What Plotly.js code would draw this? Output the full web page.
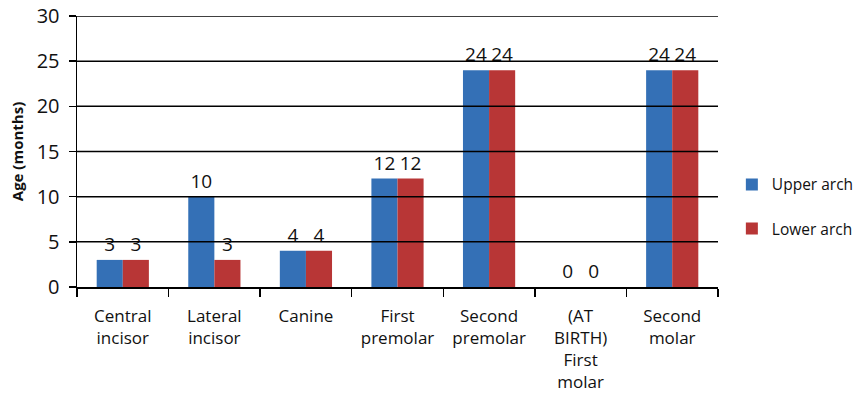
<!DOCTYPE html>
<html>
<head>
<meta charset="utf-8">
<script src="https://cdn.plot.ly/plotly-3.0.1.min.js"></script>
<style>html,body{margin:0;padding:0;background:#fff;}#chart{width:860px;height:394px;}</style>
</head>
<body>
<div id="chart"></div>
<script>
var categories = ["Central<br>incisor", "Lateral<br>incisor", "Canine", "First<br>premolar", "Second<br>premolar", "(AT<br>BIRTH)<br>First<br>molar", "Second<br>molar"];
var upperArch = [3, 10, 4, 12, 24, 0, 24];
var lowerArch = [3, 3, 4, 12, 24, 0, 24];
var yTicks = [0, 5, 10, 15, 20, 25, 30];

var FONT = "Open Sans, Noto Sans, sans-serif";

var traces = [
  {type: "bar", name: "Upper arch", x: categories, y: upperArch,
   text: upperArch.map(String), textposition: "outside", cliponaxis: false,
   constraintext: "none", textfont: {family: FONT, size: 19, color: "#111"},
   marker: {color: "#3470b6", line: {width: 0}}, legendgroup: "a"},
  {type: "bar", name: "Lower arch", x: categories, y: lowerArch,
   text: lowerArch.map(String), textposition: "outside", cliponaxis: false,
   constraintext: "none", textfont: {family: FONT, size: 19, color: "#111"},
   marker: {color: "#b83636", line: {width: 0}}, legendgroup: "b"}
];

var gridShapes = yTicks.filter(function(v){return v > 0;}).map(function(v){
  return {type: "line", xref: "paper", yref: "y", x0: 0, x1: 1, y0: v, y1: v,
          line: {color: "#000", width: 1.5}, layer: "above"};
});

var layout = {
  width: 860, height: 394,
  margin: {l: 77, r: 142, t: 16, b: 107},
  paper_bgcolor: "#fff", plot_bgcolor: "#fff",
  font: {family: FONT, color: "#111"},
  barmode: "group", bargap: 0.43, bargroupgap: 0,
  showlegend: true,
  legend: {xref: "container", yref: "container", x: 0.851, xanchor: "left", y: 0.475, yanchor: "middle",
           font: {family: FONT, size: 15.5, color: "#111"},
           traceorder: "grouped", tracegroupgap: 21, bgcolor: "rgba(0,0,0,0)"},
  xaxis: {type: "category", tickson: "boundaries", ticks: "outside", ticklen: 8,
          tickwidth: 1.5, tickcolor: "#000", showline: true, linecolor: "#000", linewidth: 1.5,
          showgrid: false, tickfont: {family: FONT, size: 17, color: "#111"},
          ticklabelstandoff: 13, fixedrange: true},
  yaxis: {range: [0, 30], tickvals: yTicks, ticks: "outside", ticklen: 7, tickwidth: 1.5,
          tickcolor: "#000", showline: true, linecolor: "#000", linewidth: 1.5,
          showgrid: false, zeroline: false, ticklabelstandoff: 5,
          tickfont: {family: FONT, size: 20, color: "#111"},
          title: {text: "<b>Age (months)</b>", font: {family: FONT, size: 15, color: "#111"}, standoff: 9},
          fixedrange: true},
  shapes: gridShapes
};

Plotly.newPlot("chart", traces, layout, {displayModeBar: false, staticPlot: true});
</script>
</body>
</html>
